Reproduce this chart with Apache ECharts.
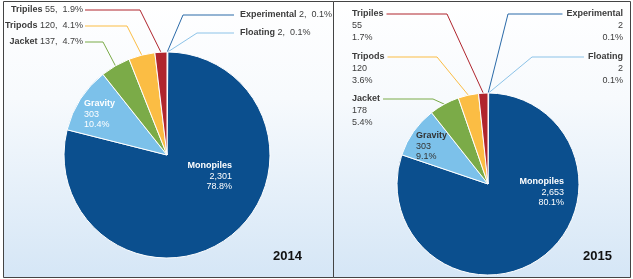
<!DOCTYPE html>
<html>
<head>
<meta charset="utf-8">
<script src="https://cdn.jsdelivr.net/npm/echarts@6/dist/echarts.min.js"></script>
<style>
  html, body { margin: 0; padding: 0; background: #fff; }
  #chart { width: 633px; height: 279px; }
</style>
</head>
<body>
<div id="chart"></div>
<script>
// foundation types, same order in both years (slices run clockwise from 12 o'clock)
var types = ['Experimental', 'Floating', 'Monopiles', 'Gravity', 'Jacket', 'Tripods', 'Tripiles'];
var units2014 = [2, 2, 2301, 303, 137, 120, 55];
var units2015 = [2, 2, 2653, 303, 178, 120, 55];
var years = ['2014', '2015'];

var colors = ['#2a6aa8', '#8cc3e8', '#0b4f8e', '#7cc1ea', '#7bab48', '#fbbd44', '#b0252d'];

// label spots: y = middle of first text line, bend = x where the leader turns horizontal
var spots2014 = {
  Experimental: { x: 240, y: 15, align: 'left', bend: 183, lh: 12 },
  Floating:     { x: 240, y: 33, align: 'left', bend: 197, lh: 12 },
  Monopiles:    { x: 232, y: 166, align: 'right', inside: true, lh: 10.5, color: '#fff' },
  Gravity:      { x: 84, y: 104, align: 'left', inside: true, lh: 10.5, color: '#fff' },
  Jacket:       { x: 83, y: 42, align: 'right', bend: 103, lh: 12 },
  Tripods:      { x: 83, y: 26, align: 'right', bend: 127, lh: 12 },
  Tripiles:     { x: 83, y: 10, align: 'right', bend: 140, lh: 12 }
};
var spots2015 = {
  Experimental: { x: 623, y: 14, align: 'right', bend: 508, lh: 12 },
  Floating:     { x: 623, y: 57, align: 'right', bend: 532, lh: 12 },
  Monopiles:    { x: 564, y: 182, align: 'right', inside: true, lh: 10.2, color: '#fff' },
  Gravity:      { x: 416, y: 136, align: 'left', inside: true, lh: 10.5, color: '#333' },
  Jacket:       { x: 352, y: 99, align: 'left', bend: 433, lh: 12 },
  Tripods:      { x: 352, y: 57, align: 'left', bend: 437, lh: 12 },
  Tripiles:     { x: 352, y: 14, align: 'left', bend: 447, lh: 12 }
};

var font = '"Liberation Sans", Arial, sans-serif';

function richFor(lh) {
  return {
    n:  { fontWeight: 'bold', fontSize: 9, fontFamily: font, lineHeight: lh },
    v:  { fontSize: 9, fontFamily: font, lineHeight: lh },
    nR: { fontWeight: 'bold', fontSize: 9, fontFamily: font, lineHeight: lh, align: 'right' },
    vR: { fontSize: 9, fontFamily: font, lineHeight: lh, align: 'right' }
  };
}

function buildData(units, spots) {
  return units.map(function (v, i) {
    var s = spots[types[i]];
    var item = {
      name: types[i],
      value: v,
      itemStyle: { color: colors[i] },
      label: { color: s.color || '#3c3c3c', rich: richFor(s.lh) }
    };
    if (s.inside) {
      item.label.position = 'inside';
      item.labelLine = { show: false };
    }
    return item;
  });
}

function makeFormatter(units, spots, oneLine) {
  var total = units.reduce(function (a, b) { return a + b; }, 0);
  return function (p) {
    var s = spots[p.name];
    var pct = (p.value / total * 100).toFixed(1) + '%';
    var num = p.value.toLocaleString('en-US');
    var r = s.align === 'right' ? 'R' : '';
    if (oneLine && !s.inside) {
      return '{n' + r + '|' + p.name + '} {v' + r + '|' + num + ',  ' + pct + '}';
    }
    return '{n' + r + '|' + p.name + '}\n{v' + r + '|' + num + '}\n{v' + r + '|' + pct + '}';
  };
}

function makeLayout(spots) {
  return function (p) {
    var s = spots[types[p.dataIndex]];
    var out = { x: s.x, y: s.y - s.lh / 2, align: s.align, verticalAlign: 'top' };
    if (s.bend != null && p.labelLinePoints) {
      var p0 = p.labelLinePoints[0];
      var w = p.labelRect.width;
      var toRight = p0[0] > s.x;
      var end;
      if (s.align === 'left') end = toRight ? s.x + w + 3 : s.x - 6;
      else end = toRight ? s.x + 2 : s.x - w - 4;
      out.labelLinePoints = [p0, [s.bend, s.y], [end, s.y]];
    }
    return out;
  };
}

function pieSeries(units, spots, center, radius, oneLine) {
  return {
    type: 'pie',
    center: center,
    radius: radius,
    startAngle: 90,
    clockwise: true,
    avoidLabelOverlap: false,
    silent: true,
    itemStyle: { borderColor: '#fff', borderWidth: 1 },
    label: {
      show: true,
      position: 'outside',
      fontFamily: font,
      fontSize: 9,
      formatter: makeFormatter(units, spots, oneLine)
    },
    labelLine: { show: true, length: 10, length2: 10, lineStyle: { width: 1 } },
    labelLayout: makeLayout(spots),
    data: buildData(units, spots)
  };
}

var panelFill = new echarts.graphic.LinearGradient(0, 0, 0, 1, [
  { offset: 0, color: '#ffffff' },
  { offset: 0.35, color: '#f7fafd' },
  { offset: 1, color: '#d5e6f6' }
]);

var chart = echarts.init(document.getElementById('chart'));
chart.setOption({
  animation: false,
  graphic: [
    { type: 'rect', shape: { x: 3.5, y: 1.5, width: 330, height: 276 },
      style: { fill: panelFill, stroke: '#444', lineWidth: 1 }, z: -10 },
    { type: 'rect', shape: { x: 333.5, y: 1.5, width: 297, height: 276 },
      style: { fill: panelFill, stroke: '#444', lineWidth: 1 }, z: -10 },
    { type: 'text', left: 273, top: 250,
      style: { text: years[0], font: 'bold 13px "Liberation Sans", Arial', fill: '#111' } },
    { type: 'text', left: 583, top: 250,
      style: { text: years[1], font: 'bold 13px "Liberation Sans", Arial', fill: '#111' } }
  ],
  series: [
    pieSeries(units2014, spots2014, [167, 155], 103, true),
    pieSeries(units2015, spots2015, [488, 184], 91, false)
  ]
});
</script>
</body>
</html>
